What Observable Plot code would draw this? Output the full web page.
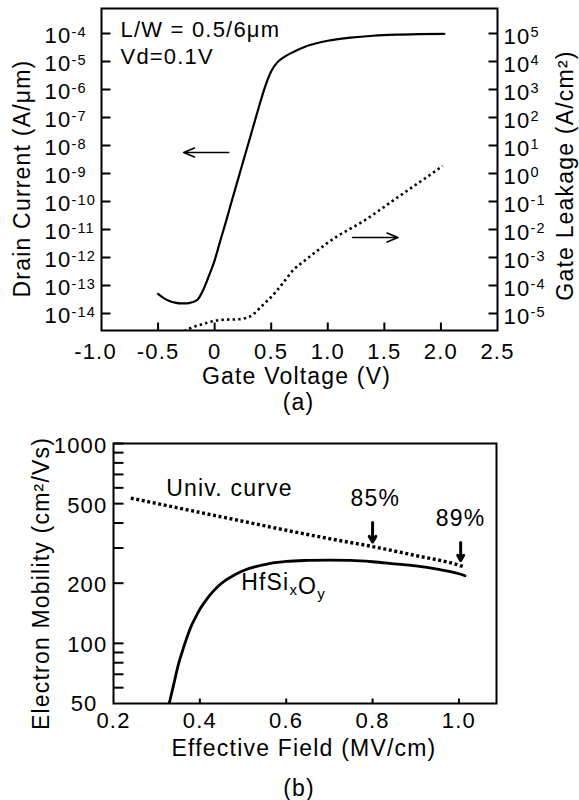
<!DOCTYPE html>
<html><head><meta charset="utf-8">
<script src="https://cdn.jsdelivr.net/npm/d3@7"></script>
<script src="https://cdn.jsdelivr.net/npm/@observablehq/plot@0.6"></script>
<style>
html,body{margin:0;padding:0;background:#fff;overflow:hidden;}
#chart svg{display:block;}
</style></head><body><div id="chart"></div>
<script>
const FONT = "'Liberation Sans', Arial, Helvetica, sans-serif";

// ---------- Panel (a): Id-Vg and gate leakage ----------
const vgDrain = [-0.5,-0.45,-0.4,-0.35,-0.3,-0.25,-0.2,-0.15,-0.1,-0.05,0,0.05,0.1,0.15,0.2,0.25,0.3,0.35,0.4,0.45,0.5,0.55,0.6,0.7,0.8,0.9,1.0,1.2,1.4,1.6,1.8,2.03];
const drainCurrent = [5.01e-14,3.55e-14,2.82e-14,2.45e-14,2.29e-14,2.29e-14,2.51e-14,3.16e-14,7.08e-14,2.24e-13,7.94e-13,3.98e-12,1.91e-11,1.0e-10,5.01e-10,2.51e-9,1.26e-8,6.31e-8,3.16e-7,1.41e-6,4.47e-6,8.91e-6,1.32e-5,2.24e-5,3.39e-5,4.47e-5,5.50e-5,7.08e-5,8.32e-5,9.12e-5,9.55e-5,9.77e-5]; // A/um
const vgLeak = [-0.27,-0.2,-0.1,0,0.05,0.1,0.2,0.3,0.35,0.4,0.45,0.5,0.6,0.7,0.8,0.9,1.0,1.1,1.2,1.3,1.4,1.5,1.6,1.7,1.8,1.9,2.015];
const gateLeakage = [2.34e-6,3.16e-6,4.27e-6,5.50e-6,5.89e-6,6.03e-6,6.17e-6,7.41e-6,1.0e-5,1.58e-5,2.51e-5,3.89e-5,1.17e-4,3.72e-4,7.94e-4,1.66e-3,3.39e-3,6.31e-3,1.07e-2,1.82e-2,3.39e-2,6.46e-2,0.126,0.240,0.457,0.871,1.86]; // A/cm^2
const leakAxisFactor = 1e-9; // right axis 10^k (A/cm2) aligns with left axis 10^(k-9) (A/um)
const leftExponents = [-14,-13,-12,-11,-10,-9,-8,-7,-6,-5,-4];
const xTicksA = [-0.5,0,0.5,1.0,1.5,2.0];
const xLabelsA = [-1.0,-0.5,0,0.5,1.0,1.5,2.0,2.5];
const notesA = [
  {x: -0.832, y: 1.29e-4, text: "L/W = 0.5/6μm"},
  {x: -0.832, y: 1.45e-5, text: "Vd=0.1V"}
];
const arrowsA = [
  {x1: 0.124, x2: -0.274, y: 5.62e-9},
  {x1: 1.22, x2: 1.62, y: 5.18e-12}
];

// ---------- Panel (b): electron mobility ----------
const fieldUniv = [0.24,0.3,0.4,0.5,0.6,0.7,0.8,0.9,1.0,1.01];
const mobilityUniv = [533,501,452,408,368,334,305,275,246,242];
const fieldHf = [0.329,0.34,0.35,0.36,0.37,0.38,0.39,0.40,0.42,0.44,0.46,0.48,0.5,0.55,0.6,0.65,0.7,0.75,0.8,0.85,0.9,0.95,1.0,1.014];
const mobilityHf = [50,63,78,92,107,122,135,148,171,191,207,220,231,248,257,260,261,260,256,250,244,235,223,218];
const yMajorB = [100,200,500,1000];
const yMinorB = [60,70,80,90,300,400,600,700,800,900];
const xTicksB = [0.4,0.6,0.8,1.0];
const xLabelsB = [0.2,0.4,0.6,0.8,1.0];
const notesBStart = [
  {x: 0.322, y: 596, text: "Univ. curve"},
  {x: 0.4956, y: 202, text: "HfSixOy"}
];
const notesBMiddle = [
  {x: 0.8065, y: 531, text: "85%"},
  {x: 1.004, y: 422, text: "89%"}
];
const arrowsB = [
  {x: 0.80, y1: 403, y2: 321},
  {x: 1.004, y1: 320, y2: 260}
];

const drainData = vgDrain.map((v,i) => ({v, i: drainCurrent[i]}));
const leakData = vgLeak.map((v,i) => ({v, j: gateLeakage[i]}));
const univData = fieldUniv.map((e,i) => ({e, m: mobilityUniv[i]}));
const hfData = fieldHf.map((e,i) => ({e, m: mobilityHf[i]}));

const style = {fontFamily: FONT, fontSize: "22px", letterSpacing: "1.2px", color: "black", background: "white", overflow: "visible"};
const fmtX = d => d === 0 ? "0" : d.toFixed(1);
const decadesA = leftExponents.map(e => Math.pow(10, e));

// domains
const xDomA = [-1, 2.5], yDomA = [Math.pow(10,-14.607), Math.pow(10,-3.107)];
const xDomB = [0.2, 1.087], yDomB = [50, 1000];
// inward tick lengths expressed in data units (9 px, 8 px for panel a; 10 px, 5 px for panel b)
const tkXA = 9 * (xDomA[1] - xDomA[0]) / (579 - 101 - 82);
const tkYA = Math.pow(10, 8 / 28);
const tkXB = 10 * (xDomB[1] - xDomB[0]) / (579 - 113 - 83);
const tkYB = Math.pow(10, 5 / 200);

const tickLine = {stroke: "black", strokeWidth: 2, strokeLinecap: "butt"};

const plotA = Plot.plot({
  width: 579, height: 420,
  marginTop: 8, marginRight: 82, marginBottom: 90, marginLeft: 101,
  style,
  x: {domain: xDomA, axis: null},
  y: {type: "log", domain: yDomA, axis: null},
  marks: [
    Plot.line(drainData, {x: "v", y: "i", stroke: "black", strokeWidth: 2.2, curve: "monotone-x", clip: true}),
    Plot.line(leakData, {x: "v", y: d => d.j * leakAxisFactor, stroke: "black", strokeWidth: 2.6, strokeDasharray: "2.4,3.2", strokeLinecap: "butt", curve: "monotone-x", clip: true}),
    Plot.arrow(arrowsA, {x1: "x1", x2: "x2", y1: "y", y2: "y", stroke: "black", strokeWidth: 1.6, headLength: 11, headAngle: 45}),
    Plot.text(notesA, {x: "x", y: "y", text: "text", textAnchor: "start", lineAnchor: "middle", fontSize: 22}),
    // inward ticks
    Plot.link(decadesA, {x1: () => xDomA[0], x2: () => xDomA[0] + tkXA, y1: d => d, y2: d => d, ...tickLine}),
    Plot.link(decadesA, {x1: () => xDomA[1] - tkXA, x2: () => xDomA[1], y1: d => d, y2: d => d, ...tickLine}),
    Plot.link(xTicksA, {x1: d => d, x2: d => d, y1: () => yDomA[0], y2: () => yDomA[0] * tkYA, ...tickLine}),
    // tick labels
    Plot.text(decadesA, {y: d => d, text: d => "10^" + Math.round(Math.log10(d)), frameAnchor: "left", textAnchor: "start", dx: -57, dy: 2.5, lineAnchor: "middle"}),
    Plot.text(decadesA, {y: d => d, text: d => "10^" + (Math.round(Math.log10(d)) + 9), frameAnchor: "right", textAnchor: "start", dx: 6, dy: 3, lineAnchor: "middle"}),
    Plot.text(xLabelsA.filter(d => d !== -1), {x: d => d, text: fmtX, frameAnchor: "bottom", textAnchor: "middle", lineAnchor: "top", dy: 13}),
    Plot.text([-1], {x: d => d, text: fmtX, frameAnchor: "bottom", textAnchor: "middle", lineAnchor: "top", dy: 13, dx: -6}),
    Plot.frame({stroke: "black", strokeWidth: 2}),
    Plot.text(["Drain Current (A/μm)"], {text: d => d, frameAnchor: "left", textAnchor: "middle", rotate: -90, dx: -79, dy: 9, fontSize: 23, lineAnchor: "middle"}),
    Plot.text(["Gate Leakage (A/cm²)"], {text: d => d, frameAnchor: "right", textAnchor: "middle", rotate: -90, dx: 68, dy: 6, fontSize: 23, lineAnchor: "middle"}),
    Plot.text(["Gate Voltage (V)"], {text: d => d, frameAnchor: "bottom", textAnchor: "middle", dx: -3, dy: 46.5, fontSize: 23, lineAnchor: "middle"}),
    Plot.text(["(a)"], {text: d => d, frameAnchor: "bottom", textAnchor: "middle", dx: -1, dy: 72, fontSize: 23, lineAnchor: "middle"})
  ]
});

const plotB = Plot.plot({
  width: 579, height: 380,
  marginTop: 23, marginRight: 83, marginBottom: 97, marginLeft: 113,
  style,
  x: {domain: xDomB, axis: null},
  y: {type: "log", domain: yDomB, axis: null},
  marks: [
    Plot.line(univData, {x: "e", y: "m", stroke: "black", strokeWidth: 3.4, strokeDasharray: "3,2.6", strokeLinecap: "butt", curve: "monotone-x", clip: true}),
    Plot.line(hfData, {x: "e", y: "m", stroke: "black", strokeWidth: 2.8, curve: "monotone-x", clip: true}),
    Plot.arrow(arrowsB, {x: "x", y1: "y1", y2: "y2", stroke: "black", strokeWidth: 3, headLength: 10, headAngle: 60}),
    Plot.text(notesBStart, {x: "x", y: "y", text: "text", textAnchor: "start", lineAnchor: "middle", fontSize: 23}),
    Plot.text(notesBMiddle, {x: "x", y: "y", text: "text", textAnchor: "middle", lineAnchor: "middle", fontSize: 23}),
    Plot.link([...yMajorB, ...yMinorB], {x1: () => xDomB[0], x2: () => xDomB[0] + tkXB, y1: d => d, y2: d => d, ...tickLine}),
    Plot.link(xTicksB, {x1: d => d, x2: d => d, y1: () => yDomB[0], y2: () => yDomB[0] * tkYB, ...tickLine}),
    Plot.text(yMajorB, {y: d => d, text: d => String(d), frameAnchor: "left", textAnchor: "end", dx: -6, dy: 2, lineAnchor: "middle"}),
    Plot.text([50], {y: d => d, text: d => String(d), frameAnchor: "left", textAnchor: "end", dx: -16, dy: 0, lineAnchor: "middle"}),
    Plot.text(xLabelsB, {x: d => d, text: d => d.toFixed(1), frameAnchor: "bottom", textAnchor: "middle", lineAnchor: "top", dy: 9}),
    Plot.frame({stroke: "black", strokeWidth: 2}),
    Plot.text(["Electron Mobility (cm²/Vs)"], {text: d => d, frameAnchor: "left", textAnchor: "middle", rotate: -90, dx: -72, dy: 10, fontSize: 23, lineAnchor: "middle"}),
    Plot.text(["Effective Field (MV/cm)"], {text: d => d, frameAnchor: "bottom", textAnchor: "middle", dx: -1, dy: 45, fontSize: 23, lineAnchor: "middle"}),
    Plot.text(["(b)"], {text: d => d, frameAnchor: "bottom", textAnchor: "middle", dx: -6, dy: 85, fontSize: 23, lineAnchor: "middle"})
  ]
});

function fixText(svg) {
  d3.select(svg).selectAll("text").each(function() {
    const t = this.textContent;
    const m = t.match(/^10\^(-?\d+)$/);
    if (m) {
      this.textContent = "10";
      d3.select(this).append("tspan").attr("dy", "-0.42em").attr("font-size", "0.66em").text(m[1]);
      return;
    }
    if (t === "HfSixOy") {
      this.textContent = "HfSi";
      const s = d3.select(this);
      s.append("tspan").attr("dy", "5").attr("font-size", "15px").text("x");
      s.append("tspan").attr("dy", "-1").attr("font-size", "23px").text("O");
      s.append("tspan").attr("dy", "5").attr("font-size", "15px").text("y");
    }
  });
}
fixText(plotA); fixText(plotB);
document.getElementById("chart").append(plotA, plotB);
</script></body></html>
